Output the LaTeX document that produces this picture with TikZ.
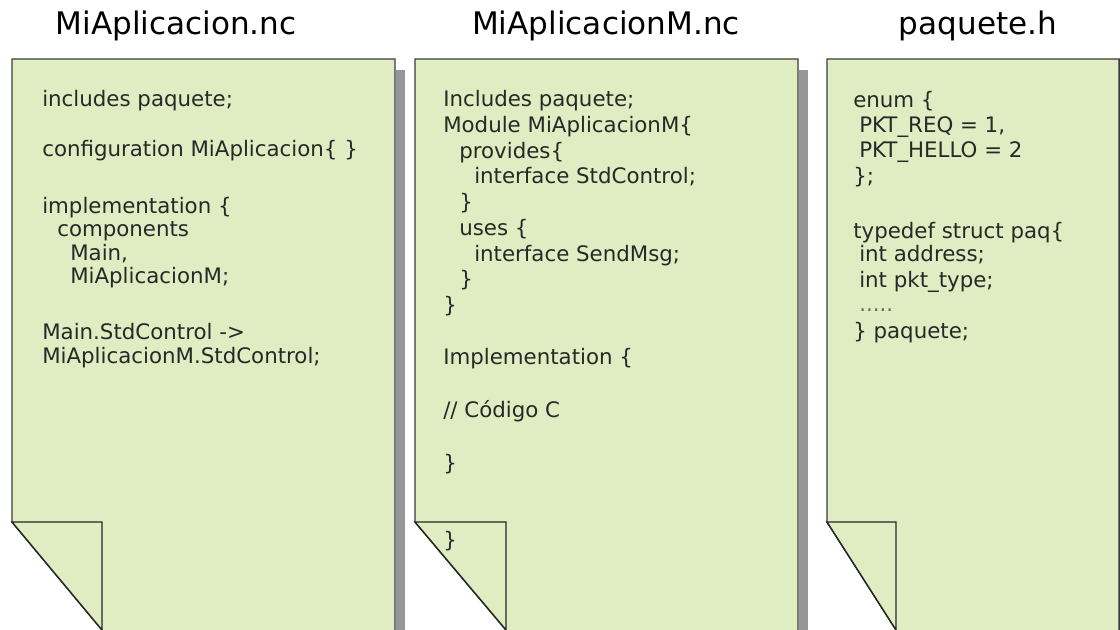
\documentclass[tikz,border=0pt]{standalone}
\usepackage{fontspec}
\setmainfont{DejaVu Sans}
\definecolor{pagegreen}{RGB}{224,236,193}
\definecolor{shadowgray}{RGB}{150,150,150}
\definecolor{edgegray}{RGB}{60,60,60}
\definecolor{codetext}{RGB}{40,40,40}
\tikzset{
  pagefill/.style={fill=pagegreen},
  pageedge/.style={draw=edgegray, line width=1.1pt},
  foldedge/.style={draw=black!85, line width=1.1pt, fill=pagegreen, line join=miter},
  dropshadow/.style={fill=shadowgray},
  code/.style={anchor=base west, inner sep=0pt, text=codetext, font=\fontsize{16}{19}\selectfont},
  filetitle/.style={anchor=base, inner sep=0pt, text=black, font=\fontsize{23.3}{28}\selectfont}
}
% one sheet: left, right, fold x; top y = 59, fold top = 522, bottom = 630
\newcommand\codesheet[3]{%
  \fill[dropshadow] (#2+1,70) rectangle (#2+10,630);
  \fill[pagefill] (#1,59) -- (#2,59) -- (#2,630) -- (#3,630) -- (#1,522) -- cycle;
  \draw[pageedge] (#3,630) -- (#1,522) -- (#1,59) -- (#2,59) -- (#2,630);
  \draw[foldedge] (#1,522) -- (#3,522) -- (#3,630) -- cycle;
}
\begin{document}
\begin{tikzpicture}[x=0.75pt, y=-0.75pt]
\useasboundingbox (0,0) rectangle (1120,630);
\fill[white] (0,0) rectangle (1120,630);

% sheets
\codesheet{12}{395}{102}
\codesheet{415}{798}{506}
\codesheet{827}{1119}{896}

% file names
\node[filetitle] (t1) at (176,35) {MiAplicacion.nc};
\node[filetitle] (t2) at (606,35) {MiAplicacionM.nc};
\node[filetitle] (t3) at (978,35) {paquete.h};

% MiAplicacion.nc
\node[code] (a1) at (42,107) {includes paquete;};
\node[code] (a2) at (42,157) {configuration MiAplicacion\{ \}};
\node[code] (a3) at (42,214) {implementation \{};
\node[code] (a4) at (57,237) {components};
\node[code] (a5) at (70,261) {Main,};
\node[code] (a6) at (70,284) {MiAplicacionM;};
\node[code] (a7) at (42,340) {Main.StdControl ->};
\node[code] (a8) at (42,364) {MiAplicacionM.StdControl;};

% MiAplicacionM.nc
\node[code] (b1) at (443,107) {Includes paquete;};
\node[code] (b2) at (443,133) {Module MiAplicacionM\{};
\node[code] (b3) at (459,159) {provides\{};
\node[code] (b4) at (474,184) {interface StdControl;};
\node[code] (b5) at (459,210) {\}};
\node[code] (b6) at (459,236) {uses \{};
\node[code] (b7) at (474,262) {interface SendMsg;};
\node[code] (b8) at (459,287) {\}};
\node[code] (b9) at (443,313) {\}};
\node[code] (b10) at (443,365) {Implementation \{};
\node[code] (b11) at (443,418) {// Código C};
\node[code] (b12) at (443,470) {\}};
\node[code] (b13) at (443,547) {\}};

% paquete.h
\node[code] (c1) at (853,108) {enum \{};
\node[code] (c2) at (859,133) {PKT\_REQ = 1,};
\node[code] (c3) at (859,158) {PKT\_HELLO = 2};
\node[code] (c4) at (853,184) {\};};
\node[code] (c5) at (853,239) {typedef struct paq\{};
\node[code] (c6) at (859,262) {int address;};
\node[code] (c7) at (859,288) {int pkt\_type;};
\node[code, text=codetext!70] (c8) at (859,312) {.....};
\node[code] (c9) at (853,339) {\} paquete;};
\end{tikzpicture}
\end{document}
